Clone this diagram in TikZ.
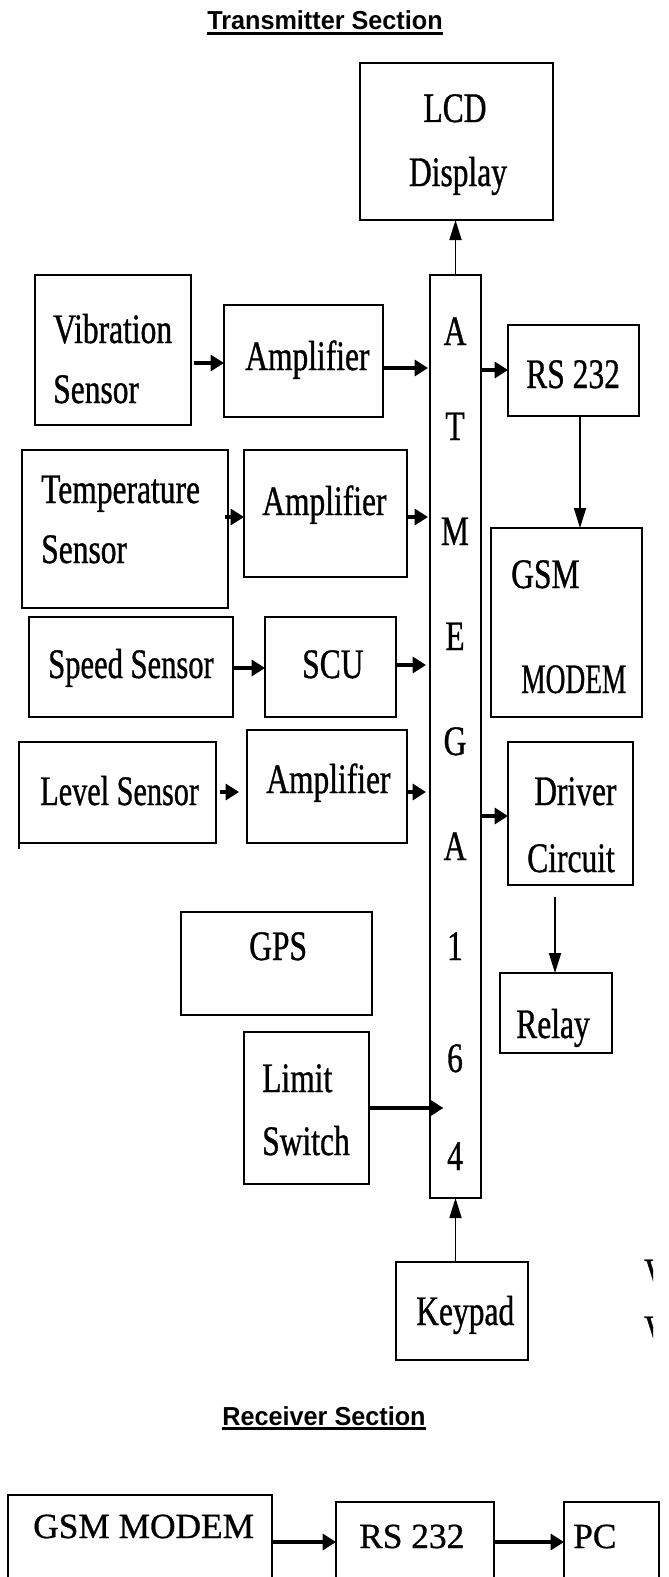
\documentclass[tikz,border=0pt]{standalone}
\usepackage{fontspec}
\setmainfont{Liberation Serif}
\newfontfamily\cond[FakeStretch=0.75,FakeBold=0.8]{Liberation Serif}
\newfontfamily\recfont[FakeBold=0.8]{Liberation Serif}
\newfontfamily\titlefont[FakeStretch=0.97]{Liberation Sans}
\usetikzlibrary{arrows.meta,calc}
\tikzset{
  box/.style={draw, line width=1.6pt, inner sep=0pt, outer sep=0pt},
  lbl/.style={inner sep=0pt, anchor=base west, font=\cond\fontsize{31.5}{32}\selectfont},
  clbl/.style={lbl, anchor=base},
  rlbl/.style={inner sep=0pt, anchor=base west, font=\recfont\fontsize{26.5}{27}\selectfont},
  ttl/.style={inner sep=0pt, anchor=base, font=\titlefont\bfseries\fontsize{19.5}{20}\selectfont},
  uline/.style={line width=2pt},
  harrow/.style={line width=2.4pt, -{Triangle[length=10pt,width=12pt]}},
  varrow/.style={line width=1.3pt, -{Triangle[length=15pt,width=9pt]}}
}
\newcommand\mybox[5]{\node[box, minimum width={(#4-#2)*0.75pt}, minimum height={(#5-#3)*0.75pt}] (#1) at ({(#2+#4)/2},{(#3+#5)/2}) {};}
\begin{document}
\begin{tikzpicture}[x=0.75pt, y=-0.75pt]
\useasboundingbox (0,0) rectangle (668,1577);
% titles
\node[ttl] (t1) at (325,29.5) {Transmitter Section};
\draw[uline] ([yshift=-2.8pt]t1.base west) -- ([yshift=-2.8pt]t1.base east);
\node[ttl] (t2) at (324,1425) {Receiver Section};
\draw[uline] ([yshift=-2.8pt]t2.base west) -- ([yshift=-2.8pt]t2.base east);
% boxes
\mybox{lcd}{360}{63}{553}{220}
\mybox{atm}{430}{275}{481}{1198}
\mybox{vib}{35}{275}{191}{425}
\mybox{amp1}{224}{305}{383}{417}
\mybox{rs}{508}{325}{639}{416}
\mybox{tmp}{22}{450}{228}{608}
\mybox{amp2}{244}{450}{407}{577}
\mybox{gsm}{491}{528}{642}{717}
\mybox{spd}{29}{617}{233}{717}
\mybox{scu}{265}{617}{396}{717}
\mybox{lvl}{19}{742}{216}{843}
\mybox{amp3}{247}{730}{407}{843}
\mybox{drv}{508}{742}{633}{885}
\mybox{gps}{181}{912}{372}{1015}
\mybox{rly}{500}{973}{612}{1053}
\mybox{lim}{244}{1032}{369}{1184}
\mybox{key}{396}{1262}{528}{1360}
\mybox{rgsm}{8}{1495}{272}{1600}
\mybox{rrs}{336}{1502}{494}{1600}
\mybox{rpc}{564}{1502}{659}{1600}
\draw[box] (lvl.south west) -- ++(0,6);
% labels
\node[clbl] (tlcd1) at (455,122) {LCD};
\node[clbl] (tlcd2) at (458,186) {Display};
\node[lbl] (tvib1) at (53,343) {Vibration};
\node[lbl] (tvib2) at (53,403) {Sensor};
\node[lbl] (tamp1) at (245,370) {Amplifier};
\node[lbl] (trs) at (526,388) {RS 232};
\node[lbl] (ttmp1) at (41,503) {Temperature};
\node[lbl] (ttmp2) at (41,563) {Sensor};
\node[lbl] (tamp2) at (262,515) {Amplifier};
\node[lbl] (tgsm1) at (511,588) {GSM};
\node[lbl] (tgsm2) at (521,693) {\scalebox{0.87}[1]{MODEM}};
\node[lbl] (tspd) at (48,678) {\scalebox{0.97}[1]{Speed Sensor}};
\node[lbl] (tscu) at (302,678) {SCU};
\node[lbl] (tlvl) at (40,805) {\scalebox{0.96}[1]{Level Sensor}};
\node[lbl] (tamp3) at (266,793) {Amplifier};
\node[lbl] (tdrv1) at (534,805) {Driver};
\node[lbl] (tdrv2) at (527,872) {Circuit};
\node[lbl] (tgps) at (249,960) {GPS};
\node[lbl] (trly) at (516,1038) {Relay};
\node[lbl] (tlim1) at (262,1092) {Limit};
\node[lbl] (tlim2) at (262,1155) {Switch};
\node[lbl] (tkey) at (416,1325) {Keypad};
\node[clbl] (a1) at (455,345) {A};
\node[clbl] (a2) at (455,440) {T};
\node[clbl] (a3) at (455,545) {M};
\node[clbl] (a4) at (455,650) {E};
\node[clbl] (a5) at (455,755) {G};
\node[clbl] (a6) at (455,860) {A};
\node[clbl] (a7) at (455,960) {1};
\node[clbl] (a8) at (455,1072) {6};
\node[clbl] (a9) at (455,1170) {4};
\begin{scope}
\clip (640,1250) rectangle (653,1350);
\node[lbl] (frag1) at (644,1287) {V};
\node[lbl] (frag2) at (644,1344) {V};
\end{scope}
\node[rlbl] (trg) at (33,1538) {GSM MODEM};
\node[rlbl] (trr) at (359,1548) {RS 232};
\node[rlbl] (trp) at (573,1548) {PC};
% connectors
\draw[varrow] (atm.north) -- (atm.north |- lcd.south);
\draw[harrow, shorten <=2pt] (vib.east |- 0,363) -- (amp1.west |- 0,363);
\draw[harrow] (amp1.east |- 0,368) -- ([xshift=-1.5pt]atm.west |- 0,368);
\draw[harrow] (atm.east |- 0,370) -- (rs.west |- 0,370);
\coordinate (rsx) at (580,0 |- rs.south);
\draw[varrow] (rsx) -- (rsx |- gsm.north);
\draw[harrow, shorten <=-2pt] (tmp.east |- 0,517) -- (amp2.west |- 0,517);
\draw[harrow] (amp2.east |- 0,517) -- ([xshift=-1.5pt]atm.west |- 0,517);
\draw[harrow] (spd.east |- 0,668) -- (scu.west |- 0,668);
\draw[harrow] (scu.east |- 0,665) -- ([xshift=-3pt]atm.west |- 0,665);
\draw[harrow, shorten <=3pt, shorten >=6pt] (lvl.east |- 0,792) -- (amp3.west |- 0,792);
\draw[harrow] (amp3.east |- 0,792) -- ([xshift=-3pt]atm.west |- 0,792);
\draw[harrow] (atm.east |- 0,816) -- (drv.west |- 0,816);
\coordinate (drvx) at (555,0 |- drv.south);
\draw[varrow, shorten <=9pt] (drvx) -- (drvx |- rly.north);
\draw[harrow, shorten >=-10pt] (lim.east |- 0,1108) -- (atm.west |- 0,1108);
\draw[varrow] (key.north -| atm.south) -- (atm.south);
\draw[harrow] (rgsm.east |- 0,1542) -- (rrs.west |- 0,1542);
\draw[harrow] (rrs.east |- 0,1542) -- (rpc.west |- 0,1542);
\end{tikzpicture}
\end{document}
